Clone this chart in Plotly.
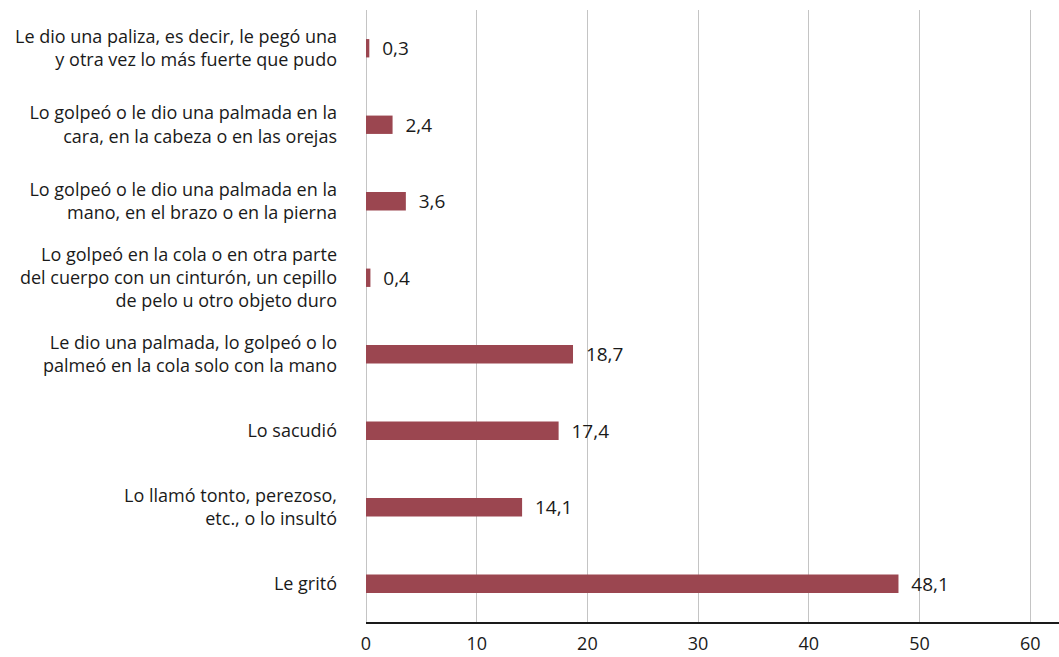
import plotly.graph_objects as go

# categories, top to bottom as shown
categories = [
    "Le dio una paliza, es decir, le pegó una<br>y otra vez lo más fuerte que pudo",
    "Lo golpeó o le dio una palmada en la<br>cara, en la cabeza o en las orejas",
    "Lo golpeó o le dio una palmada en la<br>mano, en el brazo o en la pierna",
    "Lo golpeó en la cola o en otra parte<br>del cuerpo con un cinturón, un cepillo<br>de pelo u otro objeto duro",
    "Le dio una palmada, lo golpeó o lo<br>palmeó en la cola solo con la mano",
    "Lo sacudió",
    "Lo llamó tonto, perezoso,<br>etc., o lo insultó",
    "Le gritó",
]
values = [0.3, 2.4, 3.6, 0.4, 18.7, 17.4, 14.1, 48.1]

x_ticks = [0, 10, 20, 30, 40, 50, 60]

bar_color = "#9b4650"
font_family = "'Open Sans', Lato, sans-serif"

fig = go.Figure(
    go.Bar(
        x=values,
        y=categories,
        orientation="h",
        marker=dict(color=bar_color, line=dict(width=0)),
        texttemplate="  %{x:.1f}",
        textposition="outside",
        constraintext="none",
        textfont=dict(size=19, color="#1a1a1a", family=font_family),
        cliponaxis=False,
    )
)

fig.update_layout(
    width=1059,
    height=657,
    margin=dict(l=366, r=0, t=10, b=35),
    plot_bgcolor="white",
    paper_bgcolor="white",
    separators=",.",
    bargap=0.76,
    showlegend=False,
    font=dict(family=font_family, color="#1a1a1a"),
)

fig.update_xaxes(
    range=[0, 62.6],
    tickvals=x_ticks,
    showgrid=True,
    gridcolor="#c4c4c4",
    gridwidth=1,
    zeroline=True,
    zerolinecolor="#c4c4c4",
    zerolinewidth=1,
    showline=True,
    linecolor="#1a1a1a",
    linewidth=2,
    tickfont=dict(size=18),
    ticklabelstandoff=4,
    automargin=False,
    fixedrange=True,
)

fig.update_yaxes(
    autorange="reversed",
    showgrid=False,
    showline=False,
    tickfont=dict(size=18),
    ticklabelstandoff=28,
    automargin=False,
    fixedrange=True,
)

# the page body has a default 8px margin; drop it so the figure fills the window
fig.write_html(
    "out.html",
    config={"displayModeBar": False},
    post_script="document.body.style.margin='0';",
)
